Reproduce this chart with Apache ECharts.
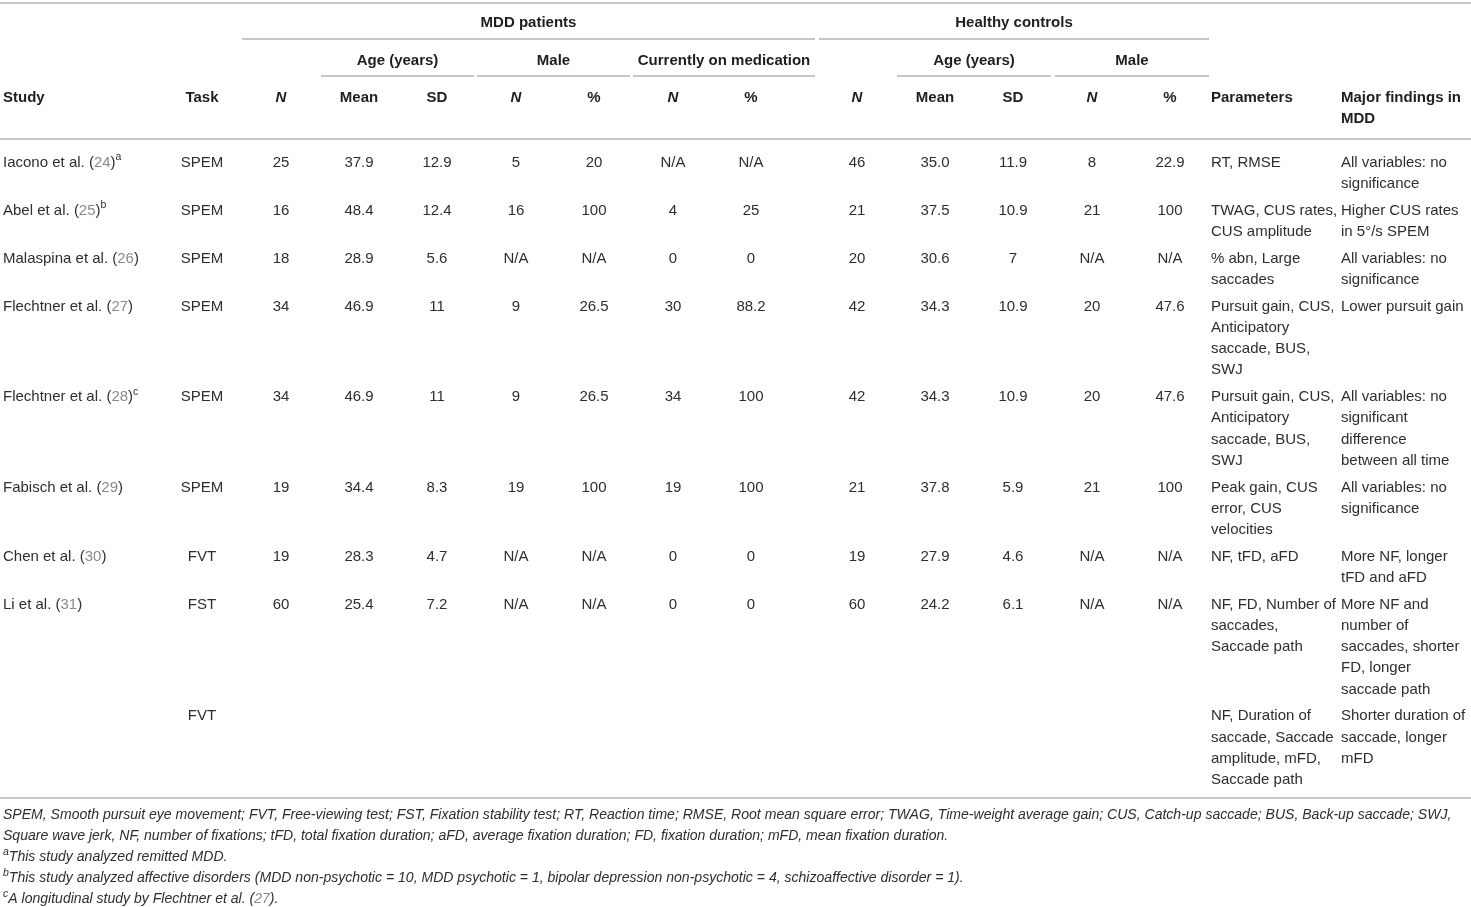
<!DOCTYPE html>
<html>
<head>
<meta charset="utf-8">
<script src="https://cdn.jsdelivr.net/npm/echarts@6/dist/echarts.min.js"></script>
<style>
html, body { margin: 0; padding: 0; background: #fff; }
#main { width: 1471px; height: 907px; }
</style>
</head>
<body>
<div id="main"></div>
<script>
// 表格数据
var studyNames = ['Iacono et al.', 'Abel et al.', 'Malaspina et al.', 'Flechtner et al.', 'Flechtner et al.', 'Fabisch et al.', 'Chen et al.', 'Li et al.', ''];
var studyRefs = ['24', '25', '26', '27', '28', '29', '30', '31', ''];
var studyNotes = ['a', 'b', '', '', 'c', '', '', '', ''];
var tasks = ['SPEM', 'SPEM', 'SPEM', 'SPEM', 'SPEM', 'SPEM', 'FVT', 'FST', 'FVT'];
var mddN = ['25', '16', '18', '34', '34', '19', '19', '60', ''];
var mddAgeMean = ['37.9', '48.4', '28.9', '46.9', '46.9', '34.4', '28.3', '25.4', ''];
var mddAgeSD = ['12.9', '12.4', '5.6', '11', '11', '8.3', '4.7', '7.2', ''];
var mddMaleN = ['5', '16', 'N/A', '9', '9', '19', 'N/A', 'N/A', ''];
var mddMalePct = ['20', '100', 'N/A', '26.5', '26.5', '100', 'N/A', 'N/A', ''];
var mddMedN = ['N/A', '4', '0', '30', '34', '19', '0', '0', ''];
var mddMedPct = ['N/A', '25', '0', '88.2', '100', '100', '0', '0', ''];
var hcN = ['46', '21', '20', '42', '42', '21', '19', '60', ''];
var hcAgeMean = ['35.0', '37.5', '30.6', '34.3', '34.3', '37.8', '27.9', '24.2', ''];
var hcAgeSD = ['11.9', '10.9', '7', '10.9', '10.9', '5.9', '4.6', '6.1', ''];
var hcMaleN = ['8', '21', 'N/A', '20', '20', '21', 'N/A', 'N/A', ''];
var hcMalePct = ['22.9', '100', 'N/A', '47.6', '47.6', '100', 'N/A', 'N/A', ''];
var parameters = [
    'RT, RMSE',
    'TWAG, CUS rates,\nCUS amplitude',
    '% abn, Large\nsaccades',
    'Pursuit gain, CUS,\nAnticipatory\nsaccade, BUS,\nSWJ',
    'Pursuit gain, CUS,\nAnticipatory\nsaccade, BUS,\nSWJ',
    'Peak gain, CUS\nerror, CUS\nvelocities',
    'NF, tFD, aFD',
    'NF, FD, Number of\nsaccades,\nSaccade path',
    'NF, Duration of\nsaccade, Saccade\namplitude, mFD,\nSaccade path'
];
var findings = [
    'All variables: no\nsignificance',
    'Higher CUS rates\nin 5°/s SPEM',
    'All variables: no\nsignificance',
    'Lower pursuit gain',
    'All variables: no\nsignificant\ndifference\nbetween all time',
    'All variables: no\nsignificance',
    'More NF, longer\ntFD and aFD',
    'More NF and\nnumber of\nsaccades, shorter\nFD, longer\nsaccade path',
    'Shorter duration of\nsaccade, longer\nmFD'
];

// 表头
var groupHeaders = ['MDD patients', 'Healthy controls'];
var subHeaders = ['Age (years)', 'Male', 'Currently on medication', 'Age (years)', 'Male'];
var colHeaders = ['Study', 'Task', 'N', 'Mean', 'SD', 'N', '%', 'N', '%', 'N', 'Mean', 'SD', 'N', '%', 'Parameters', 'Major findings in\nMDD'];

// 脚注
var footnotes = [
    'SPEM, Smooth pursuit eye movement; FVT, Free-viewing test; FST, Fixation stability test; RT, Reaction time; RMSE, Root mean square error; TWAG, Time-weight average gain; CUS, Catch-up saccade; BUS, Back-up saccade; SWJ,',
    'Square wave jerk, NF, number of fixations; tFD, total fixation duration; aFD, average fixation duration; FD, fixation duration; mFD, mean fixation duration.',
    '{s|a}This study analyzed remitted MDD.',
    '{s|b}This study analyzed affective disorders (MDD non-psychotic = 10, MDD psychotic = 1, bipolar depression non-psychotic = 4, schizoaffective disorder = 1).',
    '{s|c}A longitudinal study by Flechtner et al. ({r|27}).'
];

// 版式
var W = 1471, H = 907;
var FONT = "'Liberation Sans', Arial, Helvetica, sans-serif";
var FS = 15, LH = 21.2, ROW_GAP = 5.6, DY = 1.6;
var TEXT = '#2e2e2e', HEAD = '#1e1e1e', RULE = '#c6c6c6', REF = '#8a8a8a';
var colX = [3, 202, 281, 359, 437, 516, 594, 673, 751, 857, 935, 1013, 1092, 1170, 1211, 1341];
var colAlign = ['left', 'center', 'center', 'center', 'center', 'center', 'center', 'center', 'center',
    'center', 'center', 'center', 'center', 'center', 'left', 'left'];
var groupSpans = [[242, 815], [819, 1209]];
var subSpans = [[321, 474], [477, 630], [633, 815], [897, 1051], [1055, 1209]];
var italicHeader = [false, false, true, false, false, true, false, true, false, true, false, false, true, false, false, false];

var cells = [];
var rules = [];

function addCell(x, yTop, text, align, opt) {
    cells.push({x: x, y: yTop, text: text, align: align, opt: opt || {}});
}

// 表头文字
groupSpans.forEach(function (s, i) {
    addCell((s[0] + s[1]) / 2, 21 - LH / 2 + DY, groupHeaders[i], 'center', {bold: true});
    rules.push([s[0], s[1], 39]);
});
subSpans.forEach(function (s, i) {
    addCell((s[0] + s[1]) / 2, 59 - LH / 2 + DY, subHeaders[i], 'center', {bold: true});
    rules.push([s[0], s[1], 76]);
});
colHeaders.forEach(function (h, i) {
    addCell(colX[i], 96 - LH / 2 + DY, h, colAlign[i], {bold: true, italic: italicHeader[i]});
});
rules.push([0, W, 3]);
rules.push([0, W, 139]);

// 数据行
var columns = [tasks, mddN, mddAgeMean, mddAgeSD, mddMaleN, mddMalePct, mddMedN, mddMedPct,
    hcN, hcAgeMean, hcAgeSD, hcMaleN, hcMalePct, parameters, findings];
var y = 161 - LH / 2 + DY;
for (var r = 0; r < studyNames.length; r++) {
    var study = studyNames[r] ? studyNames[r] + ' ({r|' + studyRefs[r] + '})' + (studyNotes[r] ? '{s|' + studyNotes[r] + '}' : '') : '';
    addCell(colX[0], y, study, 'left', {rich: true});
    var lines = 1;
    for (var c = 0; c < columns.length; c++) {
        var t = columns[c][r];
        addCell(colX[c + 1], y, t, colAlign[c + 1]);
        lines = Math.max(lines, t.split('\n').length);
    }
    y += lines * LH + ROW_GAP;
}
rules.push([0, W, 798]);

// 脚注
footnotes.forEach(function (f, i) {
    addCell(3, 815 + i * 21 - 10.5, f, 'left', {foot: true, rich: true});
});

var chart = echarts.init(document.getElementById('main'));
chart.setOption({
    animation: false,
    grid: {left: 0, right: 0, top: 0, bottom: 0},
    xAxis: {type: 'value', min: 0, max: W, show: false},
    yAxis: {type: 'value', min: 0, max: H, inverse: true, show: false},
    series: [
        {
            // 横线
            type: 'custom',
            clip: false,
            encode: {x: [0, 1], y: 2},
            data: rules,
            renderItem: function (params, api) {
                var p1 = api.coord([api.value(0), api.value(2)]);
                var p2 = api.coord([api.value(1), api.value(2)]);
                return {
                    type: 'line',
                    shape: {x1: p1[0], y1: p1[1], x2: p2[0], y2: p2[1]},
                    style: {stroke: RULE, lineWidth: 2}
                };
            }
        },
        {
            // 文字
            type: 'custom',
            clip: false,
            encode: {x: 0, y: 1},
            data: cells.map(function (c) { return [c.x, c.y]; }),
            renderItem: function (params, api) {
                var cell = cells[params.dataIndex];
                var p = api.coord([api.value(0), api.value(1)]);
                var o = cell.opt;
                var fs = o.foot ? 14.05 : FS;
                var lh = o.foot ? 21 : LH;
                var base = {
                    fontFamily: FONT,
                    fontSize: fs,
                    fontWeight: o.bold ? 'bold' : 'normal',
                    fontStyle: (o.italic || o.foot) ? 'italic' : 'normal',
                    fill: o.bold ? HEAD : TEXT
                };
                var style = echarts.util.extend({
                    text: cell.text,
                    x: p[0],
                    y: p[1],
                    align: cell.align,
                    verticalAlign: 'top',
                    lineHeight: lh
                }, base);
                if (o.rich) {
                    style.rich = {
                        r: echarts.util.extend(echarts.util.extend({}, base), {fill: REF, lineHeight: lh}),
                        s: echarts.util.extend(echarts.util.extend({}, base), {fontSize: 10.5, lineHeight: 14, verticalAlign: 'top'})
                    };
                }
                return {type: 'text', style: style};
            }
        }
    ]
});
</script>
</body>
</html>
